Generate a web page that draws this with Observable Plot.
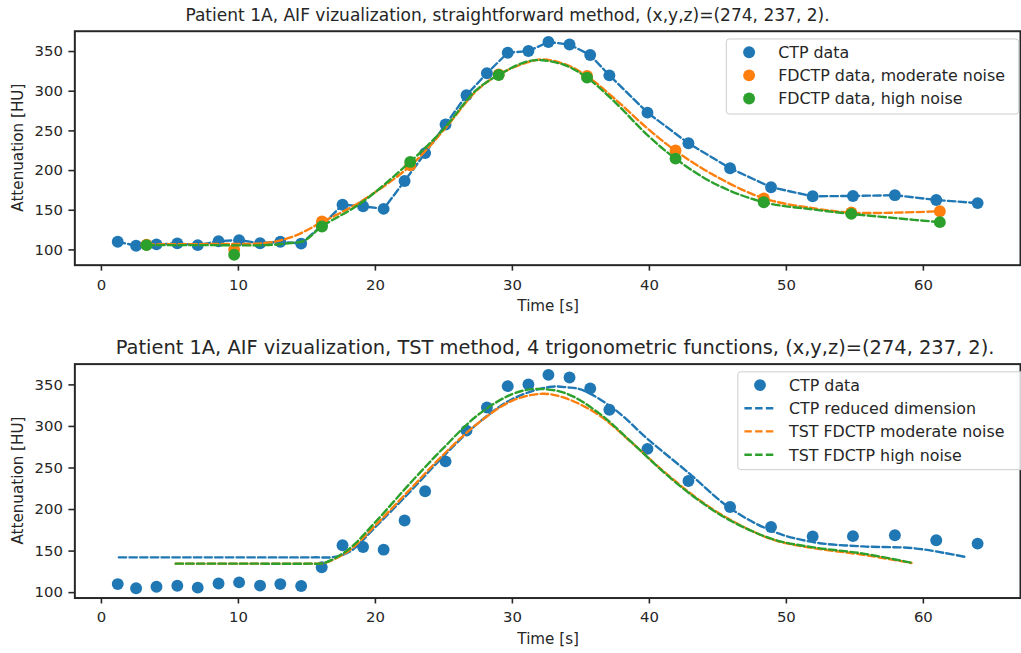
<!DOCTYPE html>
<html>
<head>
<meta charset="utf-8">
<script src="https://cdn.jsdelivr.net/npm/d3@7"></script>
<script src="https://cdn.jsdelivr.net/npm/@observablehq/plot@0.6"></script>
<style>
html, body { margin: 0; padding: 0; background: #fff; overflow: hidden; width: 1021px; height: 653px; }
#wrap { position: relative; width: 1021px; height: 653px; overflow: hidden; }
#wrap svg { display: block; }
</style>
</head>
<body>
<div id="wrap"></div>
<script>
// ---------- data ----------
const ctpTime  = [1.19, 2.53, 4.02, 5.54, 7.03, 8.55, 10.05, 11.58, 13.06, 14.58, 16.08, 17.6, 19.1, 20.6, 22.13, 23.63, 25.12, 26.65, 28.14, 29.66, 31.17, 32.63, 34.17, 35.68, 37.08, 39.86, 42.85, 45.89, 48.88, 51.92, 54.86, 57.92, 60.94, 63.96];
const ctpValue = [110.3, 105.3, 107, 108.3, 106, 111, 112.3, 108.5, 110.3, 108, 130.5, 157, 155, 151.7, 186.8, 222, 258, 295, 322.7, 348.5, 350.6, 362, 358.8, 345.6, 320, 273, 234.4, 203, 179, 167.6, 168, 169, 163, 159];

const fdTime     = [3.29, 9.69, 16.1, 22.54, 29.0, 35.45, 41.91, 48.35, 54.74, 61.2];
const fdModerate = [106.6, 100.4, 135.9, 206.6, 321, 319.1, 225.4, 165, 147.1, 148.75];
const fdHigh     = [106, 94, 129.6, 210.9, 320.4, 317.1, 215, 160, 145.4, 135];

const fitModTime  = [3.29, 8.07, 11.93, 13.86, 16.1, 18.92, 22.54, 24.96, 27.37, 29.0, 30.98, 32.19, 33.88, 35.45, 37.5, 39.9, 41.91, 44.73, 48.35, 51.97, 54.74, 58.0, 61.2];
const fitModValue = [107, 107.5, 108.75, 116, 135, 160.8, 205.8, 250.4, 300.4, 321, 335.8, 340, 333.75, 319, 290, 252.5, 225, 194, 165, 152.5, 147, 147, 148.75];
const fitHighTime  = [3.29, 8.07, 11.93, 13.86, 14.8, 16.1, 18.92, 22.54, 24.96, 27.37, 29.0, 30.98, 32.19, 33.88, 35.45, 37.5, 39.9, 41.91, 44.73, 48.35, 51.97, 54.74, 58.0, 61.2];
const fitHighValue = [106, 106, 106, 108.75, 111.6, 129.6, 158.75, 211, 252, 301.6, 320.4, 337, 339, 332.5, 317, 286, 244, 215, 183.75, 160, 151, 145.4, 140, 135];

const redTime  = [1.27, 8, 15.5, 17.0, 18.2, 20, 22.5, 25, 27.5, 30, 32.67, 34, 35.09, 37.5, 39.9, 42.8, 45.94, 49.07, 51.97, 55.6, 59.2, 61.6, 63.2];
const redValue = [142.5, 142.5, 142.5, 143, 150, 179, 221, 264.6, 304, 333, 347.5, 347, 344, 320, 284.5, 245, 201, 173.4, 160.7, 155.6, 153.6, 147.6, 142.5];
const tstModTime  = [5.42, 10, 15.2, 16.2, 18, 20, 22.5, 25, 27.5, 30, 32.19, 33.88, 36.29, 38.7, 41.11, 43.52, 45.94, 49.07, 51.97, 55.6, 59.13];
const tstModValue = [134.9, 134.9, 134.9, 135.5, 149.6, 181, 223.8, 266.7, 304, 331, 339.3, 334, 314, 280.6, 245, 213, 187.3, 163.5, 153.6, 145.6, 135.7];
const tstHighTime  = [5.42, 10, 15.2, 16.2, 18, 20, 22.5, 25, 27.5, 30, 31.7, 33.88, 36.29, 38.7, 41.11, 43.52, 45.94, 49.07, 51.97, 55.6, 59.13];
const tstHighValue = [134.9, 134.9, 134.9, 135.5, 151.6, 185, 231, 274.6, 314, 339, 345, 340, 316.3, 281, 244, 212, 186.5, 164, 154.5, 147, 136];

const xTicks = [0, 10, 20, 30, 40, 50, 60];
const yTicks = [100, 150, 200, 250, 300, 350];
const titleTop = "Patient 1A, AIF vizualization, straightforward method, (x,y,z)=(274, 237, 2).";
const titleBottom = "Patient 1A, AIF vizualization, TST method, 4 trigonometric functions, (x,y,z)=(274, 237, 2).";
const xLabel = "Time [s]";
const yLabel = "Attenuation [HU]";
const legendTop = ["CTP data", "FDCTP data, moderate noise", "FDCTP data, high noise"];
const legendBottom = ["CTP data", "CTP reduced dimension", "TST FDCTP moderate noise", "TST FDCTP high noise"];

// ---------- helpers ----------
const BLUE = "#1f77b4", ORANGE = "#ff7f0e", GREEN = "#2ca02c", INK = "#262626";
const FONT = "DejaVu Sans, sans-serif";
const DASH = "7.5,3.3";
const LW = 2.4;
const zip = (t, v) => t.map((x, i) => ({t: x, v: v[i]}));

const W = 1030, ML = 75, MR = 1, FRAME_H = 236;

function base(mt, mb, yDomain, marks) {
  return Plot.plot({
    width: W, height: mt + FRAME_H + mb,
    marginLeft: ML, marginRight: MR, marginTop: mt, marginBottom: mb,
    x: {domain: [-1.94, 67.09]},
    y: {domain: yDomain},
    style: {fontFamily: FONT, fontSize: "15px", color: INK, background: "white", overflow: "visible"},
    marks: [
      Plot.axisX({ticks: xTicks, tickSize: 6, tickPadding: 8, label: null, fontSize: 15, strokeWidth: 1.6}),
      Plot.axisY({ticks: yTicks, tickSize: 6, tickPadding: 6, label: null, fontSize: 15, strokeWidth: 1.6}),
      ...marks,
      Plot.frame({stroke: INK, strokeWidth: 2})
    ]
  });
}

function addText(svg, x, y, txt, size, anchor = "middle", rotate = 0) {
  d3.select(svg).append("text")
    .attr("transform", `translate(${x},${y}) rotate(${rotate})`)
    .attr("text-anchor", anchor)
    .attr("font-family", FONT)
    .attr("font-size", size)
    .attr("fill", INK)
    .text(txt);
}

function addLegend(svg, box, items) {
  const g = d3.select(svg).append("g");
  g.append("rect").attr("x", box.x).attr("y", box.y).attr("width", box.w).attr("height", box.h)
    .attr("rx", 3).attr("fill", "white").attr("fill-opacity", 0.8)
    .attr("stroke", "#cccccc").attr("stroke-width", 1);
  items.forEach(it => {
    if (it.kind === "dot") {
      g.append("circle").attr("cx", it.mx).attr("cy", it.y).attr("r", 6).attr("fill", it.color);
    } else {
      g.append("line").attr("x1", it.lx1).attr("x2", it.lx2).attr("y1", it.y).attr("y2", it.y)
        .attr("stroke", it.color).attr("stroke-width", LW).attr("stroke-dasharray", DASH);
    }
    g.append("text").attr("x", it.tx).attr("y", it.y).attr("dy", "0.36em")
      .attr("text-anchor", "start")
      .attr("font-family", FONT).attr("font-size", 16).attr("fill", INK).text(it.label);
  });
}

const wrap = document.getElementById("wrap");
const dashed = (color, curve) => ({x: "t", y: "v", stroke: color, strokeWidth: LW, strokeDasharray: DASH, curve});

// ---------- top chart ----------
const ctp = zip(ctpTime, ctpValue);
const top1 = base(31, 53, [80.8, 375.6], [
  Plot.line(ctp, dashed(BLUE, "linear")),
  Plot.dot(ctp, {x: "t", y: "v", r: 6, fill: BLUE}),
  Plot.line(zip(fitModTime, fitModValue), dashed(ORANGE, "catmull-rom")),
  Plot.dot(zip(fdTime, fdModerate), {x: "t", y: "v", r: 6, fill: ORANGE}),
  Plot.line(zip(fitHighTime, fitHighValue), dashed(GREEN, "catmull-rom")),
  Plot.dot(zip(fdTime, fdHigh), {x: "t", y: "v", r: 6, fill: GREEN})
]);
addText(top1, 512, 21, titleTop, 17.2);
addText(top1, 553, 314, xLabel, 15.3);
addText(top1, 23.5, 31 + FRAME_H / 2, yLabel, 15.3, "middle", -90);
addLegend(top1, {x: 732.7, y: 39.3, w: 295, h: 75.7}, [
  {kind: "dot", color: BLUE, mx: 755.7, tx: 785, y: 52.7, label: legendTop[0]},
  {kind: "dot", color: ORANGE, mx: 755.7, tx: 785, y: 76, label: legendTop[1]},
  {kind: "dot", color: GREEN, mx: 755.7, tx: 785, y: 99.3, label: legendTop[2]}
]);
top1.style.position = "absolute"; top1.style.left = "0px"; top1.style.top = "0px";
wrap.appendChild(top1);

// ---------- bottom chart ----------
const bot = base(44, 53, [93.5, 375], [
  Plot.dot(ctp, {x: "t", y: "v", r: 6, fill: BLUE}),
  Plot.line(zip(redTime, redValue), dashed(BLUE, "catmull-rom")),
  Plot.line(zip(tstModTime, tstModValue), dashed(ORANGE, "catmull-rom")),
  Plot.line(zip(tstHighTime, tstHighValue), dashed(GREEN, "catmull-rom"))
]);
addText(bot, 560, 34.3, titleBottom, 19.6);
addText(bot, 553, 44 + FRAME_H + 47, xLabel, 15.3);
addText(bot, 23.5, 44 + FRAME_H / 2, yLabel, 15.3, "middle", -90);
addLegend(bot, {x: 744.3, y: 52.3, w: 290, h: 98.7}, [
  {kind: "dot", color: BLUE, mx: 766.7, tx: 796, y: 65.7, label: legendBottom[0]},
  {kind: "line", color: BLUE, lx1: 751, lx2: 783.3, tx: 796, y: 89, label: legendBottom[1]},
  {kind: "line", color: ORANGE, lx1: 751, lx2: 783.3, tx: 796, y: 112.3, label: legendBottom[2]},
  {kind: "line", color: GREEN, lx1: 751, lx2: 783.3, tx: 796, y: 136, label: legendBottom[3]}
]);
bot.style.position = "absolute"; bot.style.left = "0px"; bot.style.top = "320px";
wrap.appendChild(bot);
</script>
</body>
</html>
